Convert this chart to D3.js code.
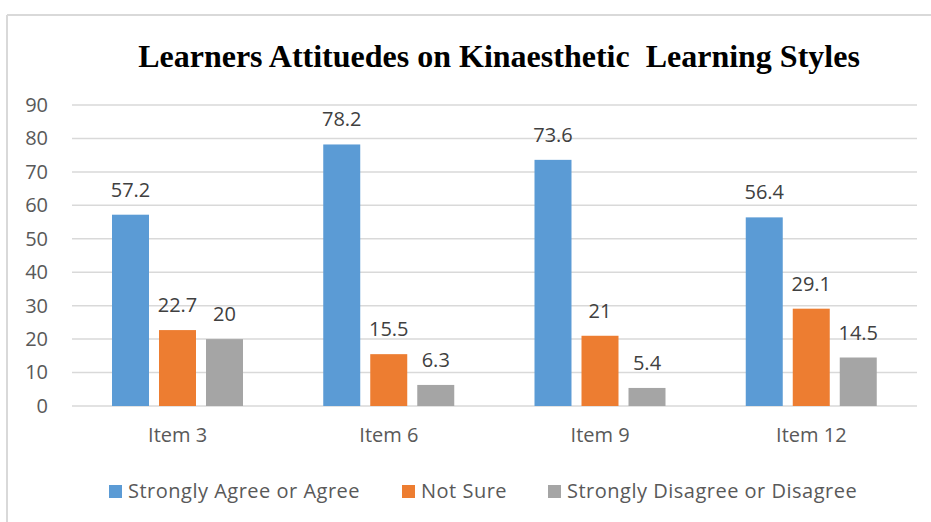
<!DOCTYPE html>
<html>
<head>
<meta charset="utf-8">
<script src="https://cdn.jsdelivr.net/npm/d3@7"></script>
<style>
  body { margin: 0; background: #fff; }
  svg { display: block; }
</style>
</head>
<body>
<script>
// chart data
const items = ["Item 3", "Item 6", "Item 9", "Item 12"]
const seriesNames = ["Strongly Agree or Agree", "Not Sure", "Strongly Disagree or Disagree"]
const agree = [57.2, 78.2, 73.6, 56.4]
const notSure = [22.7, 15.5, 21, 29.1]
const disagree = [20, 6.3, 5.4, 14.5]
const yTicks = [0, 10, 20, 30, 40, 50, 60, 70, 80, 90]
const colors = ["#5b9bd5", "#ed7d31", "#a5a5a5"]

const width = 931, height = 522
const svg = d3.select("body").append("svg").attr("width", width).attr("height", height)

// outer chart border (only top and left show in the crop)
svg.append("line").attr("x1", 7).attr("x2", width).attr("y1", 15).attr("y2", 15)
    .attr("stroke", "#d9d9d9").attr("stroke-width", 2)
svg.append("line").attr("x1", 7).attr("x2", 7).attr("y1", 15).attr("y2", height)
    .attr("stroke", "#d9d9d9").attr("stroke-width", 2)

svg.append("text").attr("x", 499).attr("y", 67).attr("text-anchor", "middle")
    .style("font-family", "'Liberation Serif', 'Times New Roman', serif")
    .style("font-weight", "bold").style("font-size", "32px").style("white-space", "pre")
    .text("Learners Attituedes on Kinaesthetic  Learning Styles")

const plotLeft = 72, plotRight = 917, plotTop = 105, plotBottom = 406
let x0 = d3.scaleBand().domain(items).range([plotLeft, plotRight])
let x1 = d3.scaleBand().domain(seriesNames).range([40, 171]).paddingInner(0.213)
let y = d3.scaleLinear().domain([0, 90]).range([plotBottom, plotTop])

const font = "'Open Sans', 'Noto Sans', sans-serif"

// gridlines
svg.append("g").selectAll("line").data(yTicks).enter().append("line")
    .attr("x1", plotLeft).attr("x2", plotRight)
    .attr("y1", d => y(d)).attr("y2", d => y(d))
    .attr("stroke", "#d9d9d9").attr("stroke-width", 1.5)

// y axis labels
let yAxis = svg.append("g").attr("transform", "translate(" + 56 + ",0)")
    .call(d3.axisLeft(y).tickValues(yTicks).tickSize(0).tickPadding(8))
yAxis.select(".domain").remove()
yAxis.selectAll("text").style("font-family", font).style("font-size", "20px").attr("fill", "#595959")

// x axis labels
let xAxis = svg.append("g").attr("transform", "translate(0," + plotBottom + ")")
    .call(d3.axisBottom(x0).tickSize(0).tickPadding(22))
xAxis.select(".domain").remove()
xAxis.selectAll("text").style("font-family", font).style("font-size", "20px").attr("fill", "#595959")

const series = [agree, notSure, disagree]
let rows = []
for (let s = 0; s < series.length; s++) {
    for (let i = 0; i < items.length; i++) {
        rows.push({ item: items[i], name: seriesNames[s], value: series[s][i], color: colors[s] })
    }
}

let bars = svg.append("g")
bars.selectAll("rect").data(rows).enter().append("rect")
    .attr("x", d => x0(d.item) + x1(d.name))
    .attr("y", d => y(d.value))
    .attr("width", x1.bandwidth())
    .attr("height", d => plotBottom - y(d.value))
    .attr("fill", d => d.color)

bars.selectAll("text").data(rows).enter().append("text")
    .attr("x", d => x0(d.item) + x1(d.name) + x1.bandwidth() / 2)
    .attr("y", d => y(d.value) - 18)
    .attr("text-anchor", "middle")
    .style("font-family", font).style("font-size", "20px").attr("fill", "#404040")
    .text(d => d.value)

// legend
const legendX = [109, 402, 548]
let legend = svg.append("g")
seriesNames.forEach(function (name, i) {
    legend.append("rect").attr("x", legendX[i]).attr("y", 485).attr("width", 13).attr("height", 13)
        .attr("fill", colors[i])
    legend.append("text").attr("x", legendX[i] + 19).attr("y", 498)
        .style("font-family", font).style("font-size", "20px").style("letter-spacing", "0.5px")
        .attr("fill", "#595959")
        .text(name)
})
</script>
</body>
</html>
